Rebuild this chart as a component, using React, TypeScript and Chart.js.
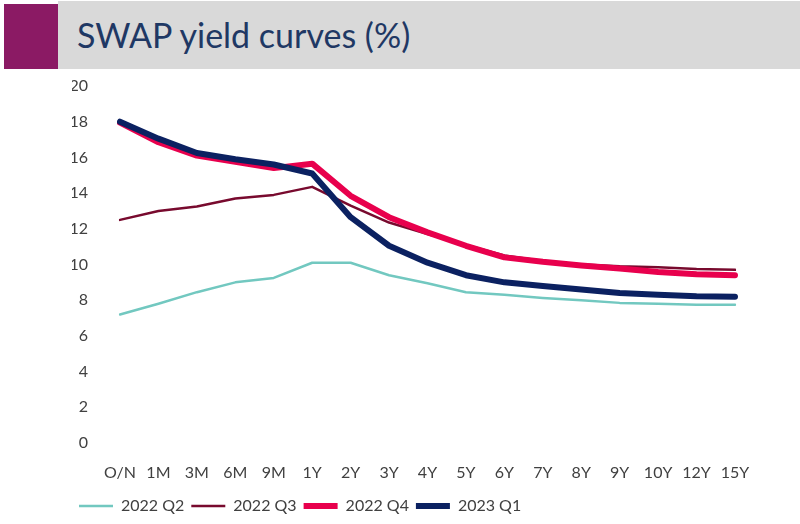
import React, { useEffect, useRef } from "react";
import { Chart, registerables } from "chart.js";

Chart.register(...registerables);

const categories = ["O/N", "1M", "3M", "6M", "9M", "1Y", "2Y", "3Y", "4Y", "5Y", "6Y", "7Y", "8Y", "9Y", "10Y", "12Y", "15Y"];
const q2_2022 = [7.2, 7.8, 8.45, 9.0, 9.25, 10.1, 10.1, 9.4, 8.95, 8.45, 8.3, 8.13, 8.0, 7.85, 7.8, 7.75, 7.75];
const q3_2022 = [12.5, 13.0, 13.25, 13.7, 13.9, 14.35, 13.3, 12.35, 11.7, 11.1, 10.5, 10.2, 10.0, 9.9, 9.85, 9.75, 9.7];
const q4_2022 = [17.95, 16.85, 16.1, 15.75, 15.4, 15.65, 13.85, 12.65, 11.8, 11.05, 10.4, 10.15, 9.95, 9.77, 9.58, 9.45, 9.4];
const q1_2023 = [18.0, 17.05, 16.25, 15.9, 15.6, 15.1, 12.65, 11.05, 10.1, 9.4, 9.0, 8.8, 8.6, 8.4, 8.3, 8.22, 8.2];
const seriesNames = ["2022 Q2", "2022 Q3", "2022 Q4", "2023 Q1"];
const yTicks = { min: 0, max: 20, step: 2 };
const title = "SWAP yield curves (%)";

const FONT = "Lato, 'Open Sans', sans-serif";

export default function App() {
  const ref = useRef<HTMLCanvasElement>(null);
  useEffect(() => {
    if (!ref.current) return;
    const mk = (label: string, data: number[], color: string, width: number, order: number) => ({
      label,
      data,
      borderColor: color,
      backgroundColor: color,
      borderWidth: width,
      pointRadius: 0,
      pointHoverRadius: 0,
      pointStyle: "line" as const,
      borderCapStyle: "round" as const,
      borderJoinStyle: "round" as const,
      tension: 0,
      fill: false,
      order,
    });
    const chart = new Chart(ref.current, {
      type: "line",
      data: {
        labels: categories,
        datasets: [
          mk(seriesNames[0], q2_2022, "#72C8C0", 2.5, 4),
          mk(seriesNames[1], q3_2022, "#780A2E", 2.5, 3),
          mk(seriesNames[2], q4_2022, "#E8004D", 6, 2),
          mk(seriesNames[3], q1_2023, "#0B2161", 6, 1),
        ],
      },
      options: {
        animation: false,
        responsive: true,
        maintainAspectRatio: false,
        layout: { padding: { left: 72, right: 65, top: 16, bottom: 0 } },
        plugins: {
          tooltip: { enabled: false },
          legend: {
            position: "bottom",
            align: "start",
            reverse: true,
            labels: {
              usePointStyle: true,
              pointStyleWidth: 34,
              padding: 7,
              color: "#404040",
              font: { family: FONT, size: 16 },
            },
          },
        },
        scales: {
          x: {
            grid: { display: false, drawTicks: false },
            border: { display: false },
            ticks: {
              color: "#404040",
              font: { family: FONT, size: 16 },
              padding: 20,
              maxRotation: 0,
              autoSkip: false,
            },
            afterFit: (s: any) => {
              s.height = 48;
            },
          },
          y: {
            min: yTicks.min,
            max: yTicks.max,
            grid: { display: false, drawTicks: false },
            border: { display: false },
            ticks: {
              stepSize: yTicks.step,
              color: "#404040",
              font: { family: FONT, size: 16 },
              padding: 32,
            },
            afterFit: (s: any) => {
              s.width = 48;
              s.paddingTop = 0;
              s.paddingBottom = 0;
            },
          },
        },
      },
    });
    return () => chart.destroy();
  }, []);

  return (
    <div style={{ position: "absolute", left: 0, top: 0, width: 800, height: 524, background: "#fff", fontFamily: FONT, overflow: "hidden" }}>
      <div style={{ position: "absolute", left: 58, top: 1, width: 742, height: 68, background: "#D9D9D9" }} />
      <div style={{ position: "absolute", left: 4, top: 4, width: 54, height: 65, background: "#8B1A64" }} />
      <div style={{ position: "absolute", left: 77, top: 13, fontSize: 34, lineHeight: "44px", color: "#1F3864", whiteSpace: "nowrap" }}>{title}</div>
      <div style={{ position: "absolute", left: 0, top: 70, width: 800, height: 454 }}>
        <canvas ref={ref} />
      </div>
    </div>
  );
}
